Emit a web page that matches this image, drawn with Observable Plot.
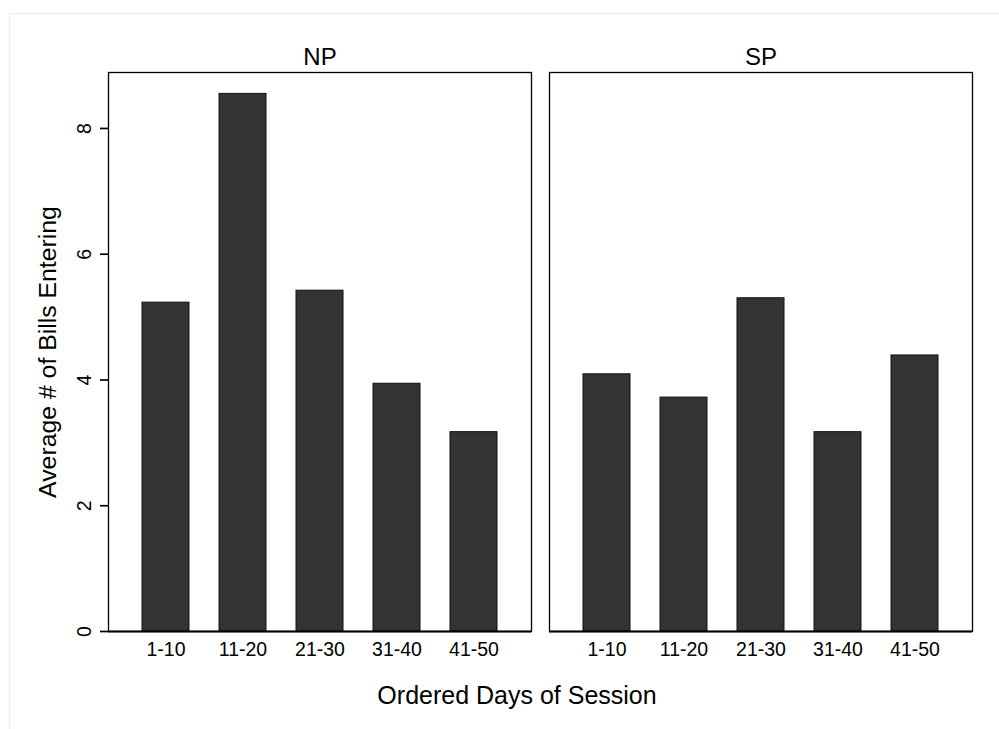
<!DOCTYPE html>
<html>
<head>
<meta charset="utf-8">
<script src="https://cdn.jsdelivr.net/npm/d3@7"></script>
<script src="https://cdn.jsdelivr.net/npm/@observablehq/plot@0.6"></script>
<style>
  html, body { margin: 0; padding: 0; background: #fff; }
  #wrap { position: relative; width: 999px; height: 729px; overflow: hidden; }
  #edge { position: absolute; left: 9px; top: 13px; width: 1000px; height: 800px;
          border-top: 1px solid #ececec; border-left: 1px solid #ececec; pointer-events: none; }
  #chart { position: absolute; left: 0; top: 0; }
</style>
</head>
<body>
<div id="wrap"><div id="chart"></div><div id="edge"></div></div>
<script>
const panels = ["NP", "SP"];
const periods = ["1-10", "11-20", "21-30", "31-40", "41-50"];
const npValues = [5.23, 8.55, 5.42, 3.94, 3.17];
const spValues = [4.09, 3.72, 5.30, 3.17, 4.39];
const yTicks = [0, 2, 4, 6, 8];
const yTitle = "Average # of Bills Entering";
const xTitle = "Ordered Days of Session";

const rows = [];
periods.forEach((p, i) => {
  rows.push({panel: panels[0], period: p, value: npValues[i]});
  rows.push({panel: panels[1], period: p, value: spValues[i]});
});

const chart = Plot.plot({
  width: 999,
  height: 729,
  marginLeft: 107,
  marginRight: 26,
  marginTop: 72,
  marginBottom: 98,
  style: {fontFamily: "'Liberation Sans', Arial, Helvetica, sans-serif", color: "#000", background: "transparent"},
  fx: {domain: panels, paddingInner: 0.0407, paddingOuter: 0},
  x: {domain: periods, paddingInner: 0.39, paddingOuter: 0.41},
  y: {domain: [0, 8.89]},
  marks: [
    Plot.frame({stroke: "#000", strokeWidth: 1.3}),
    Plot.barY(rows, {fx: "panel", x: "period", y: "value", fill: "#333333", stroke: "#111", strokeWidth: 1}),
    Plot.ruleY([0], {stroke: "#000", strokeWidth: 2}),
    Plot.axisY({ticks: yTicks, tickSize: 8, tickPadding: 10, tickRotate: -90, fontSize: 19.5, line: true, strokeWidth: 1.7, label: null}),
    Plot.axisY({ticks: [], tickSize: 0, label: yTitle, labelAnchor: "center", labelOffset: 70, labelArrow: "none", fontSize: 24.8}),
    Plot.axisX({tickSize: 0, tickPadding: 11, fontSize: 19.5, label: null}),
    Plot.axisFx({anchor: "top", tickSize: 0, tickPadding: 8, fontSize: 24, label: null}),
    Plot.text([xTitle], {facet: "super", frameAnchor: "bottom", lineAnchor: "bottom", dy: 72, dx: -23.5, fontSize: 25, fill: "#000"})
  ]
});
document.getElementById("chart").appendChild(chart);
</script>
</body>
</html>
